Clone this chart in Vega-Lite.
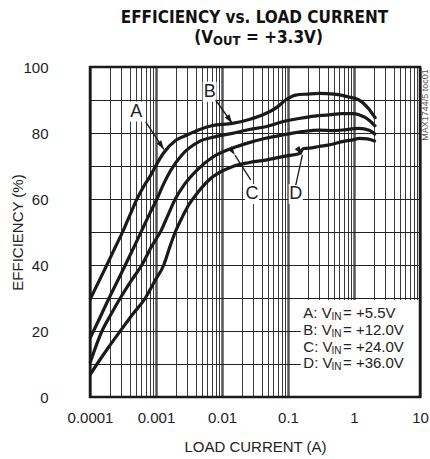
{
  "$schema": "https://vega.github.io/schema/vega-lite/v6.json",
  "autosize": {"type": "none"},
  "padding": {"left": 90, "top": 67, "right": 10, "bottom": 62},
  "width": 330,
  "height": 330,
  "background": "white",
  "config": {
    "view": {"stroke": null},
    "text": {"font": "Liberation Sans, Arial, sans-serif", "color": "#222"},
    "axis": {
      "labelFont": "Liberation Sans, Arial, sans-serif",
      "titleFont": "Liberation Sans, Arial, sans-serif",
      "labelColor": "#222",
      "titleColor": "#222",
      "titleFontWeight": "normal",
      "ticks": false,
      "domain": false
    }
  },
  "datasets": {
    "curves": [
      {"s": "A", "x": 0.0001, "y": 29.5}, {"s": "A", "x": 0.00013, "y": 34.2}, {"s": "A", "x": 0.00018, "y": 40}, {"s": "A", "x": 0.00024, "y": 45.3}, {"s": "A", "x": 0.00032, "y": 50.5}, {"s": "A", "x": 0.00041, "y": 55.5}, {"s": "A", "x": 0.000515, "y": 60}, {"s": "A", "x": 0.00065, "y": 63.8}, {"s": "A", "x": 0.00082, "y": 67}, {"s": "A", "x": 0.001, "y": 70.2}, {"s": "A", "x": 0.00131, "y": 74}, {"s": "A", "x": 0.002, "y": 77.8}, {"s": "A", "x": 0.00295, "y": 79.4}, {"s": "A", "x": 0.0045, "y": 81}, {"s": "A", "x": 0.007, "y": 82.2}, {"s": "A", "x": 0.0143, "y": 82.9}, {"s": "A", "x": 0.025, "y": 84}, {"s": "A", "x": 0.046, "y": 85.9}, {"s": "A", "x": 0.07, "y": 88}, {"s": "A", "x": 0.092, "y": 90}, {"s": "A", "x": 0.131, "y": 91.5}, {"s": "A", "x": 0.2, "y": 91.8}, {"s": "A", "x": 0.3, "y": 92}, {"s": "A", "x": 0.5, "y": 91.8}, {"s": "A", "x": 0.8, "y": 91}, {"s": "A", "x": 1.19, "y": 90}, {"s": "A", "x": 1.69, "y": 87.2}, {"s": "A", "x": 2.14, "y": 84.3},
      {"s": "B", "x": 0.0001, "y": 17.8}, {"s": "B", "x": 0.00013, "y": 22.5}, {"s": "B", "x": 0.000195, "y": 30}, {"s": "B", "x": 0.00025, "y": 34.4}, {"s": "B", "x": 0.000343, "y": 40}, {"s": "B", "x": 0.00046, "y": 45.3}, {"s": "B", "x": 0.00061, "y": 50.5}, {"s": "B", "x": 0.0008, "y": 55.5}, {"s": "B", "x": 0.001035, "y": 60}, {"s": "B", "x": 0.0013, "y": 64.5}, {"s": "B", "x": 0.00165, "y": 68.5}, {"s": "B", "x": 0.0025, "y": 73.5}, {"s": "B", "x": 0.0045, "y": 77.4}, {"s": "B", "x": 0.008, "y": 78.9}, {"s": "B", "x": 0.0143, "y": 79.9}, {"s": "B", "x": 0.025, "y": 81}, {"s": "B", "x": 0.046, "y": 81.9}, {"s": "B", "x": 0.082, "y": 83.4}, {"s": "B", "x": 0.146, "y": 84.4}, {"s": "B", "x": 0.209, "y": 84.9}, {"s": "B", "x": 0.42, "y": 85.5}, {"s": "B", "x": 0.665, "y": 85.9}, {"s": "B", "x": 1.0, "y": 85.9}, {"s": "B", "x": 1.19, "y": 85.5}, {"s": "B", "x": 1.69, "y": 83.9}, {"s": "B", "x": 2.14, "y": 81.9},
      {"s": "C", "x": 0.0001, "y": 10.3}, {"s": "C", "x": 0.000152, "y": 20}, {"s": "C", "x": 0.00021, "y": 25.2}, {"s": "C", "x": 0.000288, "y": 30}, {"s": "C", "x": 0.00042, "y": 35.2}, {"s": "C", "x": 0.00061, "y": 40}, {"s": "C", "x": 0.00085, "y": 45.5}, {"s": "C", "x": 0.0012, "y": 50.5}, {"s": "C", "x": 0.00155, "y": 55.5}, {"s": "C", "x": 0.00196, "y": 60}, {"s": "C", "x": 0.0026, "y": 64}, {"s": "C", "x": 0.0043, "y": 69}, {"s": "C", "x": 0.007, "y": 72.5}, {"s": "C", "x": 0.0143, "y": 75.4}, {"s": "C", "x": 0.025, "y": 77}, {"s": "C", "x": 0.046, "y": 78.4}, {"s": "C", "x": 0.082, "y": 79.4}, {"s": "C", "x": 0.164, "y": 80.4}, {"s": "C", "x": 0.295, "y": 80.9}, {"s": "C", "x": 0.5, "y": 80.7}, {"s": "C", "x": 0.665, "y": 80.9}, {"s": "C", "x": 1.19, "y": 81.4}, {"s": "C", "x": 1.7, "y": 80.8}, {"s": "C", "x": 2.14, "y": 79.4},
      {"s": "D", "x": 0.0001, "y": 6.7}, {"s": "D", "x": 0.000128, "y": 10}, {"s": "D", "x": 0.00019, "y": 15}, {"s": "D", "x": 0.000288, "y": 20}, {"s": "D", "x": 0.00044, "y": 25}, {"s": "D", "x": 0.00069, "y": 30}, {"s": "D", "x": 0.00095, "y": 35}, {"s": "D", "x": 0.00131, "y": 40}, {"s": "D", "x": 0.00162, "y": 45.5}, {"s": "D", "x": 0.00196, "y": 50}, {"s": "D", "x": 0.0025, "y": 54.5}, {"s": "D", "x": 0.0032, "y": 58.5}, {"s": "D", "x": 0.0043, "y": 62}, {"s": "D", "x": 0.007, "y": 66.5}, {"s": "D", "x": 0.0143, "y": 69.8}, {"s": "D", "x": 0.025, "y": 71}, {"s": "D", "x": 0.046, "y": 71.8}, {"s": "D", "x": 0.09, "y": 73}, {"s": "D", "x": 0.15, "y": 73.8}, {"s": "D", "x": 0.17, "y": 75.3}, {"s": "D", "x": 0.209, "y": 75.4}, {"s": "D", "x": 0.295, "y": 75.9}, {"s": "D", "x": 0.45, "y": 76.5}, {"s": "D", "x": 0.665, "y": 77.4}, {"s": "D", "x": 1.0, "y": 78}, {"s": "D", "x": 1.19, "y": 78.4}, {"s": "D", "x": 1.6, "y": 78.2}, {"s": "D", "x": 2.14, "y": 77.4}
    ],
    "notes": [
      {"s": "A", "lx": 0.000503, "ly": 86.5, "x1": 0.000698, "y1": 83.4, "tx": 0.00132, "ty": 75},
      {"s": "B", "lx": 0.0065, "ly": 92.5, "x1": 0.008, "y1": 90, "tx": 0.0143, "ty": 82.9},
      {"s": "C", "lx": 0.0285, "ly": 61.5, "x1": 0.0272, "y1": 65.8, "tx": 0.0157, "ty": 73.3},
      {"s": "D", "lx": 0.131, "ly": 61.5, "x1": 0.131, "y1": 64.2, "tx": 0.165, "ty": 73.3}
    ],
    "legend": [
      {"k": "A: V", "sub": "IN", "v": "= +5.5V", "y": 25.4},
      {"k": "B: V", "sub": "IN", "v": "= +12.0V", "y": 20.3},
      {"k": "C: V", "sub": "IN", "v": "= +24.0V", "y": 15.2},
      {"k": "D: V", "sub": "IN", "v": "= +36.0V", "y": 10.2}
    ]
  },
  "layer": [
    {
      "data": {"name": "curves"},
      "mark": {"type": "line", "interpolate": "monotone", "strokeWidth": 3.2, "color": "#1a1a1a"},
      "encoding": {
        "x": {
          "field": "x", "type": "quantitative",
          "scale": {"type": "log", "domain": [0.0001, 10], "nice": false},
          "axis": {
            "title": "LOAD CURRENT (A)",
            "values": [0.0001, 0.0002, 0.0003, 0.0004, 0.0005, 0.0006, 0.0007, 0.0008, 0.0009, 0.001, 0.002, 0.003, 0.004, 0.005, 0.006, 0.007, 0.008, 0.009, 0.01, 0.02, 0.03, 0.04, 0.05, 0.06, 0.07, 0.08, 0.09, 0.1, 0.2, 0.3, 0.4, 0.5, 0.6, 0.7, 0.8, 0.9, 1, 2, 3, 4, 5, 6, 7, 8, 9, 10],
            "tickCount": 100,
            "labelExpr": "indexof([0.0001,0.001,0.01,0.1,1,10], datum.value) >= 0 ? format(datum.value, '~g') : ''",
            "labelOverlap": false,
            "labelFlush": false,
            "grid": true,
            "gridColor": {"condition": {"test": "indexof([0.0001,0.001,0.01,0.1,1,10], datum.value) >= 0", "value": "#555"}, "value": "#3a3a3a"},
            "gridWidth": {"condition": {"test": "indexof([0.0001,0.001,0.01,0.1,1,10], datum.value) >= 0", "value": 2.5}, "value": 1},
            "labelFontSize": 15,
            "labelPadding": 13,
            "titleFontSize": 15,
            "titleX": 165,
            "titleY": 49,
            "titleBaseline": "middle",
            "titleAlign": "center"
          }
        },
        "y": {
          "field": "y", "type": "quantitative",
          "scale": {"domain": [0, 100], "nice": false},
          "axis": {
            "title": "EFFICIENCY (%)",
            "values": [0, 10, 20, 30, 40, 50, 60, 70, 80, 90, 100],
            "tickCount": 100,
            "labelExpr": "datum.value % 20 == 0 ? datum.label : ''",
            "labelOverlap": false,
            "grid": true,
            "gridColor": "#222",
            "gridWidth": 1,
            "labelFontSize": 15,
            "labelPadding": 42,
            "titleFontSize": 15,
            "titleAngle": 270,
            "titleX": -73,
            "titleY": 165,
            "titleBaseline": "middle",
            "titleAlign": "center"
          }
        },
        "detail": {"field": "s", "type": "nominal"}
      }
    },
    {
      "data": {"values": [{}]},
      "mark": {"type": "rect", "fill": "white"},
      "encoding": {
        "x": {"datum": 0.156, "type": "quantitative"},
        "x2": {"datum": 10},
        "y": {"datum": 0, "type": "quantitative"},
        "y2": {"datum": 29.4}
      }
    },
    {
      "data": {"name": "notes"},
      "mark": {"type": "point", "shape": "M-0.7,-1L0.7,-1L0.7,1L-0.7,1Z", "filled": true, "fill": "white", "opacity": 1, "size": 400, "strokeWidth": 0},
      "encoding": {
        "x": {"field": "lx", "type": "quantitative"},
        "y": {"field": "ly", "type": "quantitative"}
      }
    },
    {
      "data": {"name": "notes"},
      "mark": {"type": "rule", "strokeWidth": 1.3, "color": "#1a1a1a"},
      "encoding": {
        "x": {"field": "x1", "type": "quantitative"},
        "y": {"field": "y1", "type": "quantitative"},
        "x2": {"field": "tx"},
        "y2": {"field": "ty"}
      }
    },
    {
      "data": {"name": "notes"},
      "mark": {"type": "point", "shape": "M0,0L-0.4,1.3L0.4,1.3Z", "filled": true, "color": "#1a1a1a", "opacity": 1, "size": 196},
      "encoding": {
        "x": {"field": "tx", "type": "quantitative"},
        "y": {"field": "ty", "type": "quantitative"},
        "angle": {"field": "s", "type": "nominal", "scale": {"domain": ["A", "B", "C", "D"], "range": [146.5, 144.5, 329, 11.7]}, "legend": null}
      }
    },
    {
      "data": {"name": "notes"},
      "mark": {"type": "text", "fontSize": 18, "align": "center", "baseline": "middle"},
      "encoding": {
        "x": {"field": "lx", "type": "quantitative"},
        "y": {"field": "ly", "type": "quantitative"},
        "text": {"field": "s"}
      }
    },
    {
      "data": {"name": "legend"},
      "mark": {"type": "text", "fontSize": 15, "align": "left", "baseline": "middle"},
      "encoding": {
        "x": {"datum": 0.1706, "type": "quantitative"},
        "y": {"field": "y", "type": "quantitative"},
        "text": {"field": "k"}
      }
    },
    {
      "data": {"name": "legend"},
      "mark": {"type": "text", "fontSize": 10, "align": "left", "baseline": "middle", "dy": 4},
      "encoding": {
        "x": {"datum": 0.456, "type": "quantitative"},
        "y": {"field": "y", "type": "quantitative"},
        "text": {"field": "sub"}
      }
    },
    {
      "data": {"name": "legend"},
      "mark": {"type": "text", "fontSize": 15, "align": "left", "baseline": "middle"},
      "encoding": {
        "x": {"datum": 0.681, "type": "quantitative"},
        "y": {"field": "y", "type": "quantitative"},
        "text": {"field": "v"}
      }
    },
    {
      "data": {"values": [{}]},
      "mark": {"type": "rect", "fillOpacity": 0, "stroke": "#1a1a1a", "strokeWidth": 2.5},
      "encoding": {
        "x": {"datum": 0.0001, "type": "quantitative"},
        "x2": {"datum": 10},
        "y": {"datum": 0, "type": "quantitative"},
        "y2": {"datum": 100}
      }
    },
    {
      "data": {"values": [{"t": "EFFICIENCY vs. LOAD CURRENT"}]},
      "mark": {"type": "text", "font": "DejaVu Sans Condensed, sans-serif", "fontWeight": "bold", "fontSize": 17, "align": "center", "baseline": "alphabetic", "dy": -44, "color": "#111"},
      "encoding": {
        "x": {"datum": 0.031, "type": "quantitative"},
        "y": {"datum": 100, "type": "quantitative"},
        "text": {"field": "t"}
      }
    },
    {
      "data": {"values": [{"t": "(V"}]},
      "mark": {"type": "text", "font": "DejaVu Sans Condensed, sans-serif", "fontWeight": "bold", "fontSize": 17, "align": "right", "baseline": "alphabetic", "dy": -24, "color": "#111"},
      "encoding": {
        "x": {"datum": 0.00731, "type": "quantitative"},
        "y": {"datum": 100, "type": "quantitative"},
        "text": {"field": "t"}
      }
    },
    {
      "data": {"values": [{"t": "OUT"}]},
      "mark": {"type": "text", "font": "DejaVu Sans Condensed, sans-serif", "fontWeight": "bold", "fontSize": 13, "align": "left", "baseline": "alphabetic", "dy": -22, "color": "#111"},
      "encoding": {
        "x": {"datum": 0.00731, "type": "quantitative"},
        "y": {"datum": 100, "type": "quantitative"},
        "text": {"field": "t"}
      }
    },
    {
      "data": {"values": [{"t": "= +3.3V)"}]},
      "mark": {"type": "text", "font": "DejaVu Sans Condensed, sans-serif", "fontWeight": "bold", "fontSize": 17, "align": "left", "baseline": "alphabetic", "dy": -24, "color": "#111"},
      "encoding": {
        "x": {"datum": 0.0231, "type": "quantitative"},
        "y": {"datum": 100, "type": "quantitative"},
        "text": {"field": "t"}
      }
    },
    {
      "data": {"values": [{"t": "MAX1744/5 toc01"}]},
      "mark": {"type": "text", "fontSize": 9, "angle": 270, "align": "center", "baseline": "middle", "color": "#555"},
      "encoding": {
        "x": {"datum": 12, "type": "quantitative"},
        "y": {"datum": 88.5, "type": "quantitative"},
        "text": {"field": "t"}
      }
    }
  ]
}
